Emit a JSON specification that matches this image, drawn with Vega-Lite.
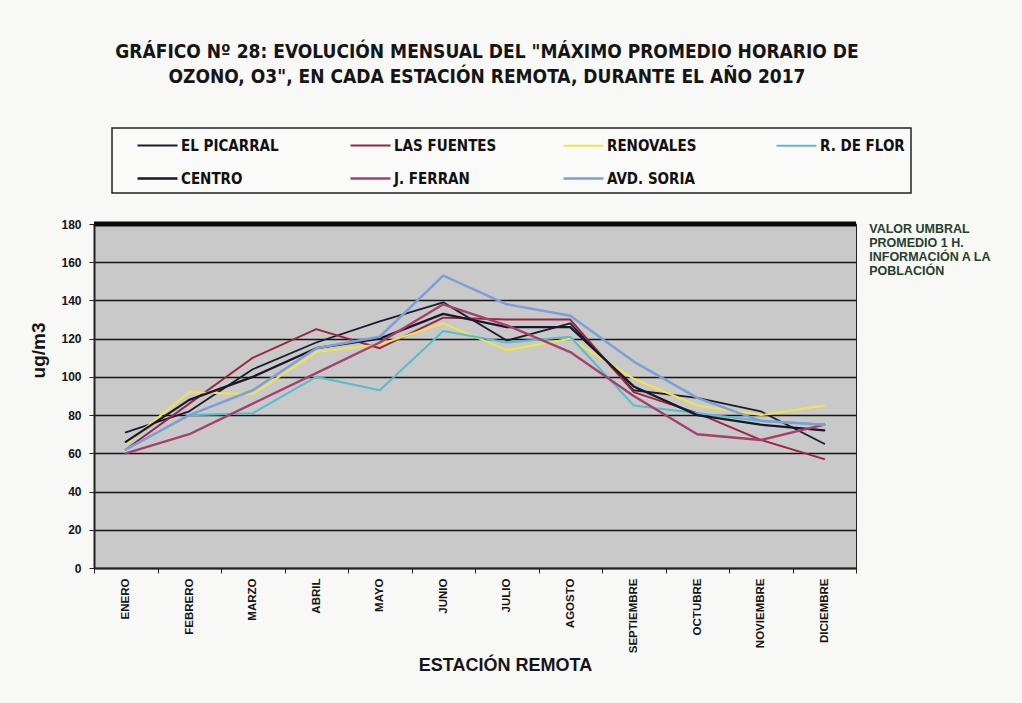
{
  "$schema": "https://vega.github.io/schema/vega-lite/v6.json",
  "width": 762,
  "height": 344,
  "autosize": {"type": "none"},
  "padding": {"left": 94, "top": 224, "right": 166, "bottom": 135},
  "background": "#f8f8f6",
  "title": {
    "text": ["GRÁFICO Nº 28: EVOLUCIÓN MENSUAL DEL \"MÁXIMO PROMEDIO HORARIO DE", "OZONO, O3\", EN CADA ESTACIÓN REMOTA, DURANTE EL AÑO 2017"],
    "anchor": "middle",
    "font": "'Liberation Sans Narrow', 'DejaVu Sans Condensed', sans-serif",
    "fontSize": 19,
    "fontWeight": "bold",
    "color": "#151515",
    "lineHeight": 25,
    "offset": 40,
    "dx": 12
  },
  "config": {
    "view": {"fill": "#c9c9c9", "stroke": "#222", "strokeWidth": 1},
    "legend": {"strokeColor": "#222", "strokeWidth": 1.5, "fillColor": "#fafaf8"}
  },
  "resolve": {"axis": {"x": "independent", "y": "independent"}},
  "data": {
    "values": [
      {"mes": "ENERO", "estacion": "EL PICARRAL", "valor": 71},
      {"mes": "FEBRERO", "estacion": "EL PICARRAL", "valor": 82},
      {"mes": "MARZO", "estacion": "EL PICARRAL", "valor": 104},
      {"mes": "ABRIL", "estacion": "EL PICARRAL", "valor": 118},
      {"mes": "MAYO", "estacion": "EL PICARRAL", "valor": 129},
      {"mes": "JUNIO", "estacion": "EL PICARRAL", "valor": 139},
      {"mes": "JULIO", "estacion": "EL PICARRAL", "valor": 119},
      {"mes": "AGOSTO", "estacion": "EL PICARRAL", "valor": 128},
      {"mes": "SEPTIEMBRE", "estacion": "EL PICARRAL", "valor": 93},
      {"mes": "OCTUBRE", "estacion": "EL PICARRAL", "valor": 89},
      {"mes": "NOVIEMBRE", "estacion": "EL PICARRAL", "valor": 82},
      {"mes": "DICIEMBRE", "estacion": "EL PICARRAL", "valor": 65},

      {"mes": "ENERO", "estacion": "LAS FUENTES", "valor": 62},
      {"mes": "FEBRERO", "estacion": "LAS FUENTES", "valor": 86},
      {"mes": "MARZO", "estacion": "LAS FUENTES", "valor": 110},
      {"mes": "ABRIL", "estacion": "LAS FUENTES", "valor": 125},
      {"mes": "MAYO", "estacion": "LAS FUENTES", "valor": 115},
      {"mes": "JUNIO", "estacion": "LAS FUENTES", "valor": 131},
      {"mes": "JULIO", "estacion": "LAS FUENTES", "valor": 130},
      {"mes": "AGOSTO", "estacion": "LAS FUENTES", "valor": 130},
      {"mes": "SEPTIEMBRE", "estacion": "LAS FUENTES", "valor": 92},
      {"mes": "OCTUBRE", "estacion": "LAS FUENTES", "valor": 81},
      {"mes": "NOVIEMBRE", "estacion": "LAS FUENTES", "valor": 67},
      {"mes": "DICIEMBRE", "estacion": "LAS FUENTES", "valor": 57},

      {"mes": "ENERO", "estacion": "RENOVALES", "valor": 65},
      {"mes": "FEBRERO", "estacion": "RENOVALES", "valor": 92},
      {"mes": "MARZO", "estacion": "RENOVALES", "valor": 91},
      {"mes": "ABRIL", "estacion": "RENOVALES", "valor": 113},
      {"mes": "MAYO", "estacion": "RENOVALES", "valor": 117},
      {"mes": "JUNIO", "estacion": "RENOVALES", "valor": 128},
      {"mes": "JULIO", "estacion": "RENOVALES", "valor": 114},
      {"mes": "AGOSTO", "estacion": "RENOVALES", "valor": 120},
      {"mes": "SEPTIEMBRE", "estacion": "RENOVALES", "valor": 99},
      {"mes": "OCTUBRE", "estacion": "RENOVALES", "valor": 85},
      {"mes": "NOVIEMBRE", "estacion": "RENOVALES", "valor": 80},
      {"mes": "DICIEMBRE", "estacion": "RENOVALES", "valor": 85},

      {"mes": "ENERO", "estacion": "R. DE FLOR", "valor": 62},
      {"mes": "FEBRERO", "estacion": "R. DE FLOR", "valor": 80},
      {"mes": "MARZO", "estacion": "R. DE FLOR", "valor": 81},
      {"mes": "ABRIL", "estacion": "R. DE FLOR", "valor": 100},
      {"mes": "MAYO", "estacion": "R. DE FLOR", "valor": 93},
      {"mes": "JUNIO", "estacion": "R. DE FLOR", "valor": 124},
      {"mes": "JULIO", "estacion": "R. DE FLOR", "valor": 118},
      {"mes": "AGOSTO", "estacion": "R. DE FLOR", "valor": 121},
      {"mes": "SEPTIEMBRE", "estacion": "R. DE FLOR", "valor": 85},
      {"mes": "OCTUBRE", "estacion": "R. DE FLOR", "valor": 81},
      {"mes": "NOVIEMBRE", "estacion": "R. DE FLOR", "valor": 77},
      {"mes": "DICIEMBRE", "estacion": "R. DE FLOR", "valor": 75},

      {"mes": "ENERO", "estacion": "CENTRO", "valor": 66},
      {"mes": "FEBRERO", "estacion": "CENTRO", "valor": 88},
      {"mes": "MARZO", "estacion": "CENTRO", "valor": 100},
      {"mes": "ABRIL", "estacion": "CENTRO", "valor": 115},
      {"mes": "MAYO", "estacion": "CENTRO", "valor": 120},
      {"mes": "JUNIO", "estacion": "CENTRO", "valor": 133},
      {"mes": "JULIO", "estacion": "CENTRO", "valor": 126},
      {"mes": "AGOSTO", "estacion": "CENTRO", "valor": 126},
      {"mes": "SEPTIEMBRE", "estacion": "CENTRO", "valor": 95},
      {"mes": "OCTUBRE", "estacion": "CENTRO", "valor": 80},
      {"mes": "NOVIEMBRE", "estacion": "CENTRO", "valor": 75},
      {"mes": "DICIEMBRE", "estacion": "CENTRO", "valor": 72},

      {"mes": "ENERO", "estacion": "J. FERRAN", "valor": 60},
      {"mes": "FEBRERO", "estacion": "J. FERRAN", "valor": 70},
      {"mes": "MARZO", "estacion": "J. FERRAN", "valor": 86},
      {"mes": "ABRIL", "estacion": "J. FERRAN", "valor": 102},
      {"mes": "MAYO", "estacion": "J. FERRAN", "valor": 118},
      {"mes": "JUNIO", "estacion": "J. FERRAN", "valor": 138},
      {"mes": "JULIO", "estacion": "J. FERRAN", "valor": 127},
      {"mes": "AGOSTO", "estacion": "J. FERRAN", "valor": 113},
      {"mes": "SEPTIEMBRE", "estacion": "J. FERRAN", "valor": 90},
      {"mes": "OCTUBRE", "estacion": "J. FERRAN", "valor": 70},
      {"mes": "NOVIEMBRE", "estacion": "J. FERRAN", "valor": 67},
      {"mes": "DICIEMBRE", "estacion": "J. FERRAN", "valor": 75},

      {"mes": "ENERO", "estacion": "AVD. SORIA", "valor": 62},
      {"mes": "FEBRERO", "estacion": "AVD. SORIA", "valor": 80},
      {"mes": "MARZO", "estacion": "AVD. SORIA", "valor": 93},
      {"mes": "ABRIL", "estacion": "AVD. SORIA", "valor": 115},
      {"mes": "MAYO", "estacion": "AVD. SORIA", "valor": 121},
      {"mes": "JUNIO", "estacion": "AVD. SORIA", "valor": 153},
      {"mes": "JULIO", "estacion": "AVD. SORIA", "valor": 138},
      {"mes": "AGOSTO", "estacion": "AVD. SORIA", "valor": 132},
      {"mes": "SEPTIEMBRE", "estacion": "AVD. SORIA", "valor": 108},
      {"mes": "OCTUBRE", "estacion": "AVD. SORIA", "valor": 89},
      {"mes": "NOVIEMBRE", "estacion": "AVD. SORIA", "valor": 77},
      {"mes": "DICIEMBRE", "estacion": "AVD. SORIA", "valor": 75}
    ]
  },
  "layer": [
    {
      "mark": {"type": "line", "strokeJoin": "round", "strokeCap": "round"},
      "encoding": {
        "x": {
          "field": "mes",
          "type": "ordinal",
          "sort": ["ENERO", "FEBRERO", "MARZO", "ABRIL", "MAYO", "JUNIO", "JULIO", "AGOSTO", "SEPTIEMBRE", "OCTUBRE", "NOVIEMBRE", "DICIEMBRE"],
          "scale": {"type": "band", "paddingInner": 0, "paddingOuter": 0},
          "axis": {
            "title": "ESTACIÓN REMOTA",
            "titleFont": "'Liberation Sans', Arial, sans-serif",
            "titleFontSize": 18,
            "titleFontWeight": "bold",
            "titleColor": "#151515",
            "titleX": 411,
            "titleY": 97,
            "titleBaseline": "middle",
            "titleAnchor": "middle",
            "labelAngle": 270,
            "labelAlign": "right",
            "labelBaseline": "middle",
            "labelFont": "'Liberation Sans', Arial, sans-serif",
            "labelFontSize": 11.5,
            "labelFontWeight": "bold",
            "labelColor": "#151515",
            "labelPadding": 5,
            "labelOverlap": false,
            "tickBand": "extent",
            "tickSize": 5,
            "tickColor": "#222",
            "tickWidth": 1,
            "domainColor": "#222",
            "domainWidth": 2,
            "grid": false
          }
        },
        "y": {
          "field": "valor",
          "type": "quantitative",
          "scale": {"domain": [0, 180], "nice": false},
          "axis": {
            "title": "ug/m3",
            "titleFont": "'Liberation Sans', Arial, sans-serif",
            "titleFontSize": 19,
            "titleFontWeight": "bold",
            "titleColor": "#151515",
            "titleX": -56,
            "titleY": 126,
            "titleAngle": 270,
            "titleBaseline": "middle",
            "titleAlign": "center",
            "values": [0, 20, 40, 60, 80, 100, 120, 140, 160, 180],
            "tickCount": 12,
            "labelOverlap": false,
            "labelFlush": false,
            "labelFont": "'Liberation Sans', Arial, sans-serif",
            "labelFontSize": 12,
            "labelFontWeight": "bold",
            "labelColor": "#151515",
            "labelPadding": 8,
            "tickSize": 5,
            "tickColor": "#222",
            "domainColor": "#222",
            "domainWidth": 2,
            "grid": true,
            "gridColor": "#151515",
            "gridWidth": 1.6,
            "gridOpacity": 1
          }
        },
        "color": {
          "field": "estacion",
          "type": "nominal",
          "scale": {
            "domain": ["EL PICARRAL", "LAS FUENTES", "RENOVALES", "R. DE FLOR", "CENTRO", "J. FERRAN", "AVD. SORIA"],
            "range": ["#1c1c30", "#9a2442", "#f2e34c", "#5cbccb", "#18182a", "#a4406e", "#7ba0d8"]
          },
          "legend": {
            "title": "\u00a0",
            "titleOrient": "left",
            "titleFontSize": 15,
            "titlePadding": 18,
            "orient": "none",
            "legendX": 18,
            "legendY": -96,
            "direction": "horizontal",
            "columns": 4,
            "gridAlign": "all",
            "columnPadding": 61,
            "rowPadding": 13,
            "padding": 6,
            "symbolType": "M-1,0H3",
            "symbolSize": 400,
            "symbolStrokeWidth": 2.2,
            "labelFont": "'Liberation Sans Narrow', 'DejaVu Sans Condensed', sans-serif",
            "labelFontSize": 15,
            "labelFontWeight": "bold",
            "labelColor": "#111",
            "labelOffset": 22,
            "labelLimit": 200
          }
        },
        "strokeWidth": {
          "field": "estacion",
          "type": "nominal",
          "scale": {
            "domain": ["EL PICARRAL", "LAS FUENTES", "RENOVALES", "R. DE FLOR", "CENTRO", "J. FERRAN", "AVD. SORIA"],
            "range": [1.8, 2.5, 3, 3, 1.8, 1.8, 3.5]
          },
          "legend": null
        }
      }
    },
    {
      "data": {"values": [{}]},
      "mark": {"type": "rule", "color": "#0a0a0a", "strokeWidth": 5},
      "encoding": {
        "y": {"datum": 180, "type": "quantitative", "axis": null}
      }
    },
    {
      "data": {"values": [{}]},
      "mark": {
        "type": "text",
        "text": ["VALOR UMBRAL", "PROMEDIO 1 H.", "INFORMACIÓN A LA", "POBLACIÓN"],
        "align": "left",
        "baseline": "top",
        "dx": 45,
        "dy": -1,
        "lineHeight": 14,
        "font": "'Liberation Sans', Arial, sans-serif",
        "fontSize": 12.5,
        "fontWeight": "bold",
        "color": "#26402c"
      },
      "encoding": {
        "x": {"datum": "DICIEMBRE", "type": "ordinal", "axis": null},
        "y": {"datum": 180, "type": "quantitative", "axis": null}
      }
    }
  ]
}
